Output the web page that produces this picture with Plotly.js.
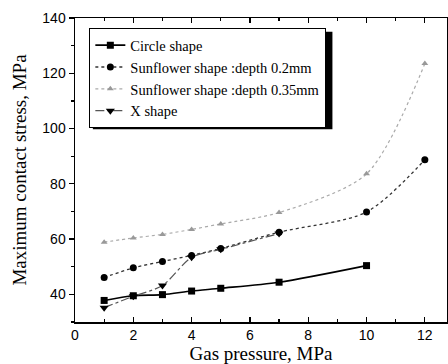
<!DOCTYPE html>
<html>
<head>
<meta charset="utf-8">
<script src="https://cdn.plot.ly/plotly-3.0.1.min.js"></script>
<style>html,body{margin:0;padding:0;background:#fff;}#chart{width:448px;height:364px;}</style>
</head>
<body>
<div id="chart"></div>
<script>
// Data
const seriesNames = ["Circle shape", "Sunflower shape :depth 0.2mm", "Sunflower shape :depth 0.35mm", "X shape"];
const xCircle = [1, 2, 3, 4, 5, 7, 10];
const yCircle = [37.8, 39.5, 39.9, 41.2, 42.2, 44.4, 50.4];
const xSun02 = [1, 2, 3, 4, 5, 7, 10, 12];
const ySun02 = [46.1, 49.6, 51.9, 54.1, 56.6, 62.5, 69.8, 88.7];
const xSun035 = [1, 2, 3, 4, 5, 7, 10, 12];
const ySun035 = [58.9, 60.4, 61.7, 63.5, 65.5, 69.6, 83.6, 123.5];
const xX = [1, 2, 3, 4, 5, 7];
const yX = [35.2, 39.3, 43.2, 53.4, 56.3, 62.0];

const serif = "Liberation Serif, Times New Roman, serif";
const sans = "Liberation Sans, Arial, sans-serif";

const traces = [
  {x: xCircle, y: yCircle, name: seriesNames[0], mode: "lines+markers",
   line: {color: "#000", width: 1.6, shape: "spline", smoothing: 0.8},
   marker: {symbol: "square", size: 7, color: "#000"}},
  {x: xSun02, y: ySun02, name: seriesNames[1], mode: "lines+markers",
   line: {color: "#333", width: 1.3, dash: "dot", shape: "spline", smoothing: 0.8},
   marker: {symbol: "circle", size: 7, color: "#000"}},
  {x: xSun035, y: ySun035, name: seriesNames[2], mode: "lines+markers",
   line: {color: "#aaa", width: 1.2, dash: "dot", shape: "spline", smoothing: 0.8},
   marker: {symbol: "triangle-up", size: 6, color: "#999"}},
  {x: xX, y: yX, name: seriesNames[3], mode: "lines+markers",
   line: {color: "#555", width: 1.2, dash: "dashdot", shape: "spline", smoothing: 0.8},
   marker: {symbol: "triangle-down", size: 8, color: "#000"}}
];

const layout = {
  width: 448, height: 364,
  margin: {l: 75, r: 1, t: 18, b: 42},
  paper_bgcolor: "#fff", plot_bgcolor: "#fff",
  showlegend: true,
  legend: {x: 0.038, y: 0.967, xanchor: "left", yanchor: "top",
    bgcolor: "#fff", bordercolor: "#000", borderwidth: 1.2,
    font: {family: serif, size: 14.5, color: "#000"}, tracegroupgap: 0, itemwidth: 30},
  xaxis: {range: [0, 12.76], tickvals: [0, 2, 4, 6, 8, 10, 12],
    ticks: "inside", ticklen: 5, tickwidth: 1.2, tickcolor: "#000",
    minor: {dtick: 1, tick0: 0, ticks: "inside", ticklen: 3, tickcolor: "#000"},
    showline: true, linecolor: "#000", linewidth: 1.5, mirror: "ticks",
    showgrid: false, zeroline: false,
    tickfont: {family: sans, size: 14, color: "#000"},
    title: {text: "Gas pressure, MPa", font: {family: serif, size: 19, color: "#000"}, standoff: 7}},
  yaxis: {range: [30, 140], tickvals: [40, 60, 80, 100, 120, 140],
    ticks: "outside", ticklen: 5, tickwidth: 1.2, tickcolor: "#000",
    minor: {dtick: 10, tick0: 30, ticks: "outside", ticklen: 3, tickcolor: "#000"},
    showline: true, linecolor: "#000", linewidth: 1.5, mirror: "ticks",
    showgrid: false, zeroline: false,
    tickfont: {family: sans, size: 14, color: "#000"},
    title: {text: "Maximum contact stress, MPa", font: {family: serif, size: 19, color: "#000"}, standoff: 10}},
  shapes: [
    // drop shadow behind the legend box
    {type: "rect", xref: "paper", yref: "paper", layer: "above",
     x0: 0.048, x1: 0.692, y0: 0.634, y1: 0.955,
     fillcolor: "#000", line: {width: 0}}
  ]
};

Plotly.newPlot("chart", traces, layout, {displayModeBar: false, staticPlot: true});
</script>
</body>
</html>
